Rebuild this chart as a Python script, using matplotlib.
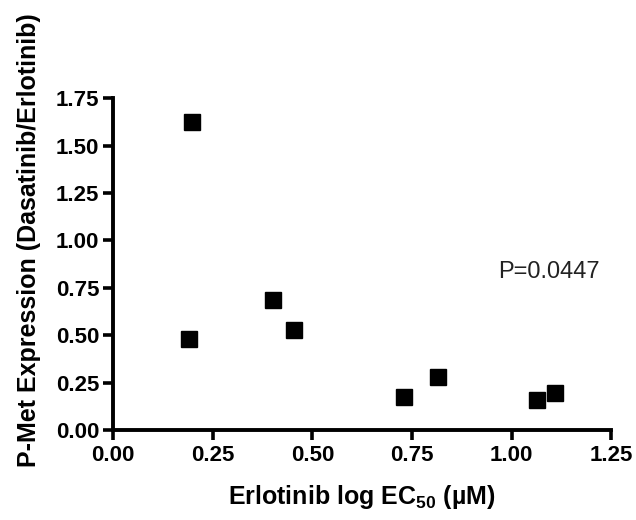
import matplotlib
matplotlib.use("Agg")
import matplotlib.pyplot as plt

# valores
erlotinib_log_ec50 = [0.198, 0.189, 0.401, 0.455, 0.729, 0.816, 1.064, 1.110]
pmet_ratio = [1.625, 0.48, 0.684, 0.526, 0.175, 0.28, 0.158, 0.193]

x_ticks = [0.00, 0.25, 0.50, 0.75, 1.00, 1.25]
y_ticks = [0.00, 0.25, 0.50, 0.75, 1.00, 1.25, 1.50, 1.75]
p_text = "P=0.0447"

plt.rcParams['font.family'] = ['Liberation Sans', 'DejaVu Sans']
plt.rcParams['mathtext.fontset'] = 'custom'
plt.rcParams['mathtext.rm'] = 'Liberation Sans:bold'
plt.rcParams['mathtext.bf'] = 'Liberation Sans:bold'

fig = plt.figure(figsize=(6.36, 5.20), dpi=100)
ax = fig.add_axes([0.178, 0.173, 0.783, 0.638])

ax.plot(erlotinib_log_ec50, pmet_ratio, 's', color='black', markersize=11,
        clip_on=False)

ax.set_xlim(0, 1.25)
ax.set_ylim(0, 1.75)
ax.set_xticks(x_ticks)
ax.set_yticks(y_ticks)
ax.set_xticklabels(['%.2f' % v for v in x_ticks])
ax.set_yticklabels(['%.2f' % v for v in y_ticks])

for side in ['top', 'right']:
    ax.spines[side].set_visible(False)
for side in ['left', 'bottom']:
    ax.spines[side].set_linewidth(2.8)

ax.tick_params(direction='out', length=7, width=2.6, labelsize=16)
ax.tick_params(axis='x', pad=4)
ax.tick_params(axis='y', pad=3)
for lbl in ax.get_xticklabels() + ax.get_yticklabels():
    lbl.set_fontweight('bold')

ax.set_xlabel('Erlotinib log EC$_{50}$ (µM)', fontsize=18, fontweight='bold', labelpad=12)
ax.set_ylabel('P-Met Expression (Dasatinib/Erlotinib)', fontsize=18, fontweight='bold')
ax.yaxis.set_label_coords(-0.145, 0.572)

ax.text(0.966, 0.833, p_text, fontsize=17, va='center', ha='left', color='#222222')

fig.savefig('out.png', dpi=100)
